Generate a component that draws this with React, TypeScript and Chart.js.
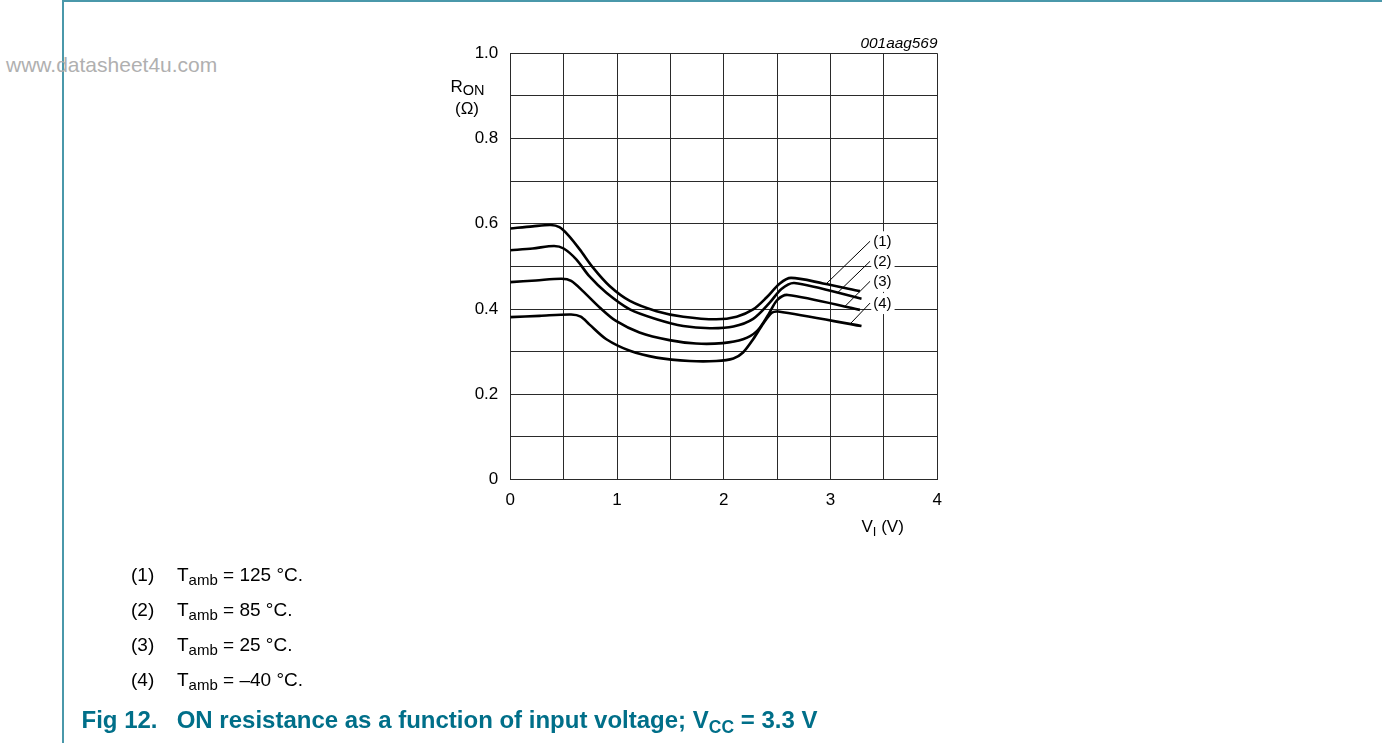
import React, { useEffect, useRef } from 'react';
import { Chart, registerables } from 'chart.js';

Chart.register(...registerables);

const FONT = '"Liberation Sans", Arial, Helvetica, sans-serif';

// Tick labels
const xTickLabels = ['0', '1', '2', '3', '4'];
const yTickLabels = ['0', '0.2', '0.4', '0.6', '0.8', '1.0'];

// Series names / captions
const seriesNames = ['(1)', '(2)', '(3)', '(4)'];
const tempCaptions = ['125 °C.', '85 °C.', '25 °C.', '–40 °C.'];

// (1) Tamb = 125 °C
const vin1 = [0, 0.21, 0.38, 0.46, 0.54, 0.65, 0.775, 0.93, 1.12, 1.37, 1.62, 1.93, 2.12, 2.275, 2.40, 2.525, 2.63, 2.93, 3.275];
const ron1 = [0.589, 0.594, 0.597, 0.592, 0.574, 0.540, 0.497, 0.454, 0.419, 0.395, 0.382, 0.376, 0.382, 0.399, 0.427, 0.460, 0.473, 0.460, 0.442];

// (2) Tamb = 85 °C
const vin2 = [0, 0.21, 0.41, 0.50, 0.62, 0.74, 0.90, 1.12, 1.37, 1.62, 1.87, 2.09, 2.275, 2.43, 2.54, 2.66, 3.29];
const ron2 = [0.538, 0.542, 0.548, 0.542, 0.516, 0.477, 0.438, 0.399, 0.376, 0.360, 0.355, 0.359, 0.377, 0.415, 0.447, 0.461, 0.424];

// (3) Tamb = 25 °C
const vin3 = [0, 0.24, 0.48, 0.57, 0.68, 0.84, 0.99, 1.21, 1.49, 1.74, 1.99, 2.18, 2.31, 2.42, 2.50, 2.60, 3.275];
const ron3 = [0.463, 0.467, 0.471, 0.466, 0.442, 0.403, 0.372, 0.345, 0.327, 0.319, 0.320, 0.329, 0.348, 0.388, 0.421, 0.433, 0.398];

// (4) Tamb = -40 °C
const vin4 = [0, 0.275, 0.57, 0.66, 0.74, 0.90, 1.12, 1.37, 1.68, 1.93, 2.09, 2.18, 2.275, 2.37, 2.45, 2.51, 3.29];
const ron4 = [0.381, 0.384, 0.387, 0.382, 0.364, 0.329, 0.302, 0.286, 0.278, 0.278, 0.284, 0.298, 0.329, 0.366, 0.391, 0.394, 0.360];

// Leader lines from curve labels to curves
const leaderV = [[3.37, 2.963], [3.37, 3.065], [3.37, 3.134], [3.37, 3.18]];
const leaderR = [[0.559, 0.460], [0.512, 0.438], [0.465, 0.406], [0.414, 0.364]];

// Curve label anchors
const labelV = [3.40, 3.40, 3.40, 3.40];
const labelR = [0.559, 0.512, 0.466, 0.414];

const curveLabelPlugin = {
  id: 'curveLabels',
  afterDatasetsDraw(chart: any) {
    const { ctx, scales } = chart;
    const xs = scales.x;
    const ys = scales.y;
    ctx.save();
    ctx.font = `15px ${FONT}`;
    ctx.textBaseline = 'middle';
    ctx.textAlign = 'left';
    seriesNames.forEach((t, i) => {
      const px = xs.getPixelForValue(labelV[i]);
      const py = ys.getPixelForValue(labelR[i]);
      const w = ctx.measureText(t).width;
      ctx.fillStyle = '#ffffff';
      ctx.fillRect(px - 2, py - 10, w + 5, 21);
      ctx.fillStyle = '#000000';
      ctx.fillText(t, px, py + 1);
    });
    ctx.restore();
  },
};

const W = 1382;
const H = 743;
const AREA = { left: 510.3, right: 937.3, top: 53.3, bottom: 479.5 };
const Y_AXIS_W = 50;
const X_AXIS_H = 40;

export default function App() {
  const ref = useRef<HTMLCanvasElement>(null);

  useEffect(() => {
    const canvas = ref.current;
    if (!canvas) return;
    const curves = [
      [vin1, ron1],
      [vin2, ron2],
      [vin3, ron3],
      [vin4, ron4],
    ];
    const datasets: any[] = [
      ...curves.map(([v, r], i) => ({
        label: seriesNames[i],
        data: v.map((x, j) => ({ x, y: r[j] })),
        borderColor: '#000',
        borderWidth: 2.6,
        pointRadius: 0,
        tension: 0.3,
        fill: false,
      })),
      ...leaderV.map((v, i) => ({
        label: 'leader ' + seriesNames[i],
        data: v.map((x, j) => ({ x, y: leaderR[i][j] })),
        borderColor: '#000',
        borderWidth: 1,
        pointRadius: 0,
        tension: 0,
        fill: false,
      })),
    ];

    const gridColor = '#2a2a2a';
    const chart = new Chart(canvas, {
      type: 'line',
      data: { datasets },
      plugins: [curveLabelPlugin],
      options: {
        animation: false,
        responsive: false,
        devicePixelRatio: 1,
        layout: {
          padding: {
            left: AREA.left - Y_AXIS_W,
            right: W - AREA.right,
            top: AREA.top,
            bottom: H - AREA.bottom - X_AXIS_H,
          },
        },
        plugins: {
          legend: { display: false },
          tooltip: { enabled: false },
          title: { display: false },
        },
        scales: {
          x: {
            type: 'linear',
            min: 0,
            max: 4,
            afterFit: (s: any) => {
              s.height = X_AXIS_H;
            },
            ticks: {
              stepSize: 0.5,
              autoSkip: false,
              maxRotation: 0,
              padding: 11,
              color: '#000',
              font: { family: FONT, size: 17 },
              callback: (value: any) => {
                const k = Math.round(Number(value) * 2);
                return k % 2 === 0 ? xTickLabels[k / 2] : '';
              },
            },
            grid: { color: gridColor, lineWidth: 1, drawTicks: false },
            border: { color: gridColor, width: 1 },
          },
          y: {
            type: 'linear',
            min: 0,
            max: 1,
            afterFit: (s: any) => {
              s.width = Y_AXIS_W;
            },
            ticks: {
              stepSize: 0.1,
              autoSkip: false,
              padding: 12,
              color: '#000',
              font: { family: FONT, size: 17 },
              callback: (value: any) => {
                const k = Math.round(Number(value) * 10);
                return k % 2 === 0 ? yTickLabels[k / 2] : '';
              },
            },
            grid: { color: gridColor, lineWidth: 1, drawTicks: false },
            border: { color: gridColor, width: 1 },
          },
        },
      } as any,
    });
    return () => chart.destroy();
  }, []);

  const abs = (left: number, baseline: number, size: number): React.CSSProperties => ({
    position: 'absolute',
    left,
    top: baseline - 0.8465 * size,
    fontSize: size,
    lineHeight: `${size}px`,
    fontFamily: FONT,
    whiteSpace: 'nowrap',
    color: '#000',
  });

  const sub = (size: number, drop: number): React.CSSProperties => ({
    fontSize: size,
    position: 'relative',
    top: drop,
  });

  const legendBaselines = [581, 616, 651, 686];

  return (
    <div style={{ position: 'absolute', left: 0, top: 0, width: W, height: H, overflow: 'hidden', background: '#fff' }}>
      {/* page frame */}
      <div style={{ position: 'absolute', left: 62, top: 0, width: 1.5, height: H, background: '#4a98aa' }} />
      <div style={{ position: 'absolute', left: 62, top: 0, width: W - 62, height: 1.5, background: '#4a98aa' }} />
      <div style={{ ...abs(6, 71.5, 21), color: '#b0b0b0' }}>www.datasheet4u.com</div>

      <canvas ref={ref} width={W} height={H} style={{ position: 'absolute', left: 0, top: 0, width: W, height: H }} />

      {/* chart id */}
      <div style={{ ...abs(0, 48.5, 15.4), left: undefined, right: W - 937.5, fontStyle: 'italic' }}>001aag569</div>

      {/* y axis title */}
      <div style={abs(450.5, 92, 17)}>
        R<span style={sub(14.5, 3.5)}>ON</span>
      </div>
      <div style={abs(455, 114, 17)}>(Ω)</div>

      {/* x axis title */}
      <div style={abs(861.5, 532, 17)}>
        V<span style={sub(13, 4)}>I</span> (V)
      </div>

      {/* legend captions */}
      {tempCaptions.map((c, i) => (
        <React.Fragment key={i}>
          <div style={abs(131, legendBaselines[i], 19)}>{seriesNames[i]}</div>
          <div style={abs(177, legendBaselines[i], 19)}>
            T<span style={sub(15, 4)}>amb</span> = {c}
          </div>
        </React.Fragment>
      ))}

      {/* figure title */}
      <div style={{ ...abs(81.5, 728, 24), fontWeight: 'bold', color: '#006f89' }}>
        Fig 12.
      </div>
      <div style={{ ...abs(176.7, 728, 24), fontWeight: 'bold', color: '#006f89' }}>
        ON resistance as a function of input voltage; V<span style={sub(17.5, 5)}>CC</span> = 3.3 V
      </div>
    </div>
  );
}
